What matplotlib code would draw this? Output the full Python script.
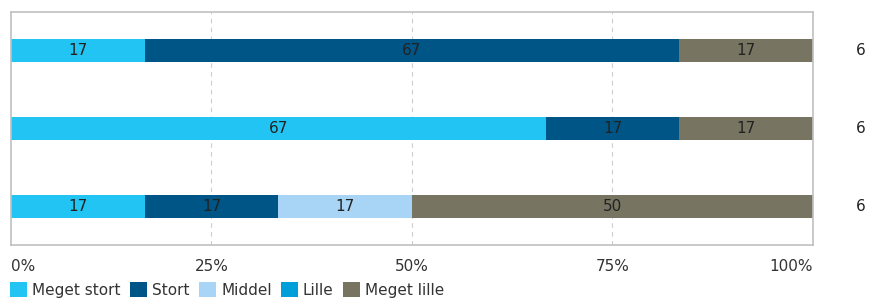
import matplotlib.pyplot as plt
from matplotlib.patches import Patch

categories = ['Meget stort', 'Stort', 'Middel', 'Lille', 'Meget lille']
colors = ['#21c4f3', '#005587', '#a8d5f5', '#009fda', '#777462']
# antal svar pr. kategori for hver række (N = 6)
row1 = [1, 4, 0, 0, 1]
row2 = [4, 1, 0, 0, 1]
row3 = [1, 1, 1, 0, 3]
rows = [row1, row2, row3]
n_values = [6, 6, 6]
ticks = [0, 25, 50, 75, 100]
tick_labels = ['0%', '25%', '50%', '75%', '100%']

plt.rcParams['font.family'] = 'DejaVu Sans'

fig = plt.figure(figsize=(8.77, 3.01), dpi=100)
ax = fig.add_axes([0.0125, 0.186, 0.9145, 0.774])

for i, row in enumerate(rows):
    total = sum(row)
    left = 0
    for j, v in enumerate(row):
        if v == 0:
            continue
        pct = v / total * 100
        ax.barh(i, pct, left=left, height=0.295, color=colors[j], zorder=2)
        ax.text(left + pct / 2, i, '%d' % round(pct), ha='center', va='center',
                fontsize=11, color='#222222', zorder=3)
        left += pct
    ax.text(1.059, i, str(n_values[i]), transform=ax.get_yaxis_transform(),
            ha='center', va='center', fontsize=11, color='#222222')

ax.set_xlim(0, 100)
ax.set_ylim(2.494, -0.494)
ax.set_yticks([])
ax.set_xticks(ticks)
ax.set_xticklabels(tick_labels, fontsize=11, color='#333333')
ax.tick_params(axis='x', length=0, pad=10)
labels = ax.get_xticklabels()
labels[0].set_ha('left')
labels[-1].set_ha('right')
for t in ticks[1:-1]:
    ax.axvline(t, color='#cccccc', linestyle=(0, (4, 4)), linewidth=0.8, zorder=1)
for s in ax.spines.values():
    s.set_color('#c0c0c0')
    s.set_linewidth(1.2)

handles = [Patch(facecolor=c, edgecolor='none') for c in colors]
fig.legend(handles, categories, loc='lower left', bbox_to_anchor=(-0.004, -0.035),
           ncol=5, frameon=False, fontsize=11, handlelength=1.1, handleheight=1.1,
           handletextpad=0.35, columnspacing=0.6, labelcolor='#333333')

fig.savefig('out.png', dpi=100)
